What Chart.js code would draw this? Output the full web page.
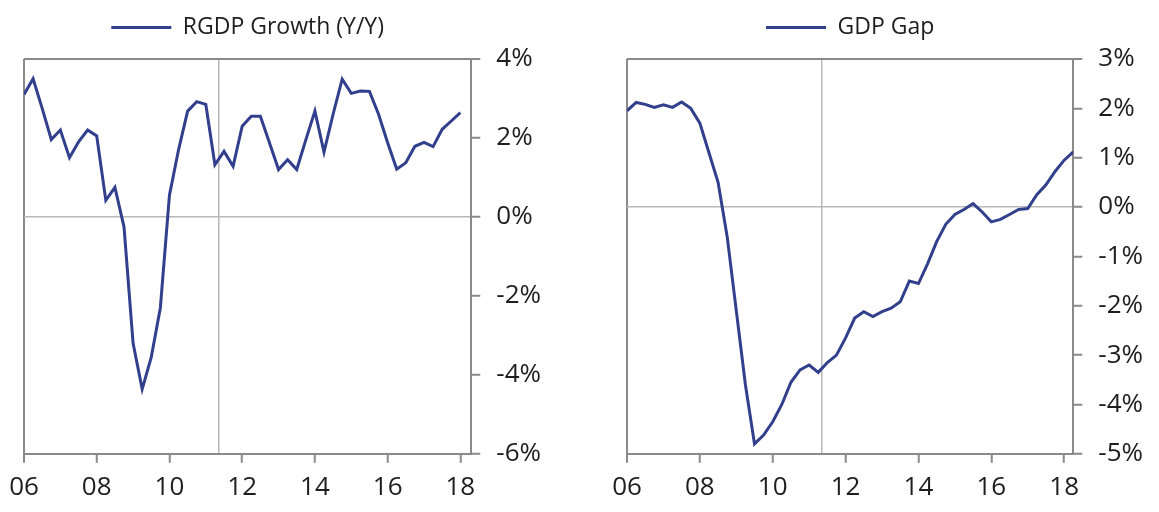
<!DOCTYPE html>
<html>
<head>
<meta charset="utf-8">
<script src="https://cdn.jsdelivr.net/npm/chart.js@4.4.0/dist/chart.umd.min.js"></script>
<style>
  html, body { margin: 0; padding: 0; background: #fff; }
  #wrap { position: relative; width: 1159px; height: 512px; }
  .box { position: absolute; top: 0; height: 512px; }
  #leftBox { left: 0; width: 580px; }
  #rightBox { left: 580px; width: 579px; }
</style>
</head>
<body>
<div id="wrap">
  <div class="box" id="leftBox"><canvas id="growthChart"></canvas></div>
  <div class="box" id="rightBox"><canvas id="gapChart"></canvas></div>
</div>
<script>
// Quarterly series, first quarter is 2006Q1
const growthLabel = 'RGDP Growth (Y/Y)';
const growthValues = [
  3.1, 3.5, 2.75, 1.96, 2.2, 1.5, 1.9, 2.2, 2.05, 0.42,
  0.75, -0.25, -3.2, -4.36, -3.55, -2.3, 0.55, 1.7, 2.68, 2.92,
  2.85, 1.32, 1.66, 1.28, 2.3, 2.55, 2.55, 1.88, 1.2, 1.45,
  1.2, 1.95, 2.68, 1.64, 2.6, 3.49, 3.13, 3.19, 3.18, 2.6,
  1.88, 1.21, 1.37, 1.79, 1.89, 1.78, 2.22, 2.43, 2.64
];
const gapLabel = 'GDP Gap';
const gapValues = [
  1.95, 2.12, 2.08, 2.02, 2.07, 2.02, 2.13, 2.0, 1.7, 1.1,
  0.5, -0.6, -2.1, -3.6, -4.8, -4.62, -4.35, -4.0, -3.55, -3.3,
  -3.2, -3.35, -3.15, -3.0, -2.65, -2.25, -2.12, -2.22, -2.12, -2.05,
  -1.92, -1.5, -1.55, -1.15, -0.7, -0.35, -0.15, -0.05, 0.07, -0.1,
  -0.3, -0.25, -0.15, -0.05, -0.03, 0.25, 0.45, 0.72, 0.95, 1.12
];
const yearTicks = [2006, 2008, 2010, 2012, 2014, 2016, 2018];
const yearLabels = ['06', '08', '10', '12', '14', '16', '18'];
const growthTicks = [-6, -4, -2, 0, 2, 4];
const gapTicks = [-5, -4, -3, -2, -1, 0, 1, 2, 3];
const dividerYear = 2011.35;

const LINE = '#323f8c';
const BORDER = '#8a8a8a';
const LIGHT = '#b8b8b8';
const TEXT = '#1e1e1e';
const FONT = "'Open Sans', 'DejaVu Sans', sans-serif";

function quarterList(startYear, n) {
  const out = [];
  for (let i = 0; i < n; i++) {
    out.push((startYear + Math.floor(i / 4)) + 'Q' + (i % 4 + 1));
  }
  return out;
}

function quarterToYear(q) {
  const parts = q.split('Q');
  return parseInt(parts[0]) + (parseInt(parts[1]) - 1) * 0.25;
}

// extra room under the legend, and keep the legend centred over the plot area
const legendTweaks = {
  id: 'legendTweaks',
  beforeInit(chart) {
    const fit = chart.legend.fit;
    chart.legend.fit = function() {
      fit.call(this);
      this.height += 10;
    };
  },
  afterLayout(chart) {
    const lg = chart.legend;
    const ca = chart.chartArea;
    lg.left = ca.left;
    lg.right = ca.right;
    lg.width = ca.right - ca.left;
  }
};

function makeChart(canvasId, label, values, yTicks, xMax, pad) {
  const quarters = quarterList(2006, values.length);
  const points = quarters.map((q, i) => ({ x: quarterToYear(q), y: values[i] }));
  const yMin = Math.min(...yTicks);
  const yMax = Math.max(...yTicks);
  const xMin = yearTicks[0];

  return new Chart(document.getElementById(canvasId).getContext('2d'), {
    type: 'line',
    data: {
      datasets: [{
        label: label,
        data: points,
        borderColor: LINE,
        backgroundColor: LINE,
        borderWidth: 3,
        pointRadius: 0,
        tension: 0,
        fill: false
      }]
    },
    plugins: [legendTweaks],
    options: {
      responsive: true,
      maintainAspectRatio: false,
      animation: false,
      layout: { padding: pad },
      plugins: {
        tooltip: { enabled: false },
        legend: {
          display: true,
          position: 'top',
          labels: {
            color: TEXT,
            font: { family: FONT, size: 23 },
            boxWidth: 60,
            boxHeight: 3,
            padding: 10,
            generateLabels: function(chart) {
              return Chart.defaults.plugins.legend.labels.generateLabels(chart)
                .map(l => Object.assign(l, { lineWidth: 0, fillStyle: LINE }));
            }
          }
        }
      },
      scales: {
        x: {
          type: 'linear',
          min: xMin,
          max: xMax,
          afterBuildTicks: function(scale) {
            scale.ticks = yearTicks.concat([dividerYear])
              .sort((a, b) => a - b)
              .map(v => ({ value: v }));
          },
          ticks: {
            autoSkip: false,
            maxRotation: 0,
            color: TEXT,
            font: { family: FONT, size: 26 },
            padding: 9,
            callback: function(value) {
              const i = yearTicks.indexOf(value);
              return i >= 0 ? yearLabels[i] : '';
            }
          },
          grid: {
            color: ctx => ctx.tick.value === dividerYear ? LIGHT : (ctx.tick.value === xMin ? BORDER : 'transparent'),
            lineWidth: ctx => ctx.tick.value === xMin ? 2 : 1.5,
            tickColor: ctx => ctx.tick.value === dividerYear ? 'transparent' : BORDER,
            tickWidth: 2,
            tickLength: 9
          },
          border: { display: true, color: BORDER, width: 2 }
        },
        y: {
          type: 'linear',
          position: 'right',
          min: yMin,
          max: yMax,
          afterBuildTicks: function(scale) {
            scale.ticks = yTicks.map(v => ({ value: v }));
          },
          ticks: {
            color: TEXT,
            font: { family: FONT, size: 26 },
            padding: 16,
            callback: v => v + '%'
          },
          grid: {
            color: ctx => ctx.tick.value === yMax ? BORDER : (ctx.tick.value === 0 ? LIGHT : 'transparent'),
            lineWidth: ctx => ctx.tick.value === yMax ? 2 : 1.5,
            tickColor: BORDER,
            tickWidth: 2,
            tickLength: 9
          },
          border: { display: true, color: BORDER, width: 2 }
        }
      }
    }
  });
}

makeChart('growthChart', growthLabel, growthValues, growthTicks, 2018.3,
  { left: 24, right: 23, top: 6, bottom: 0 });
makeChart('gapChart', gapLabel, gapValues, gapTicks, 2018.25,
  { left: 47, right: 0, top: 6, bottom: 0 });
</script>
</body>
</html>
